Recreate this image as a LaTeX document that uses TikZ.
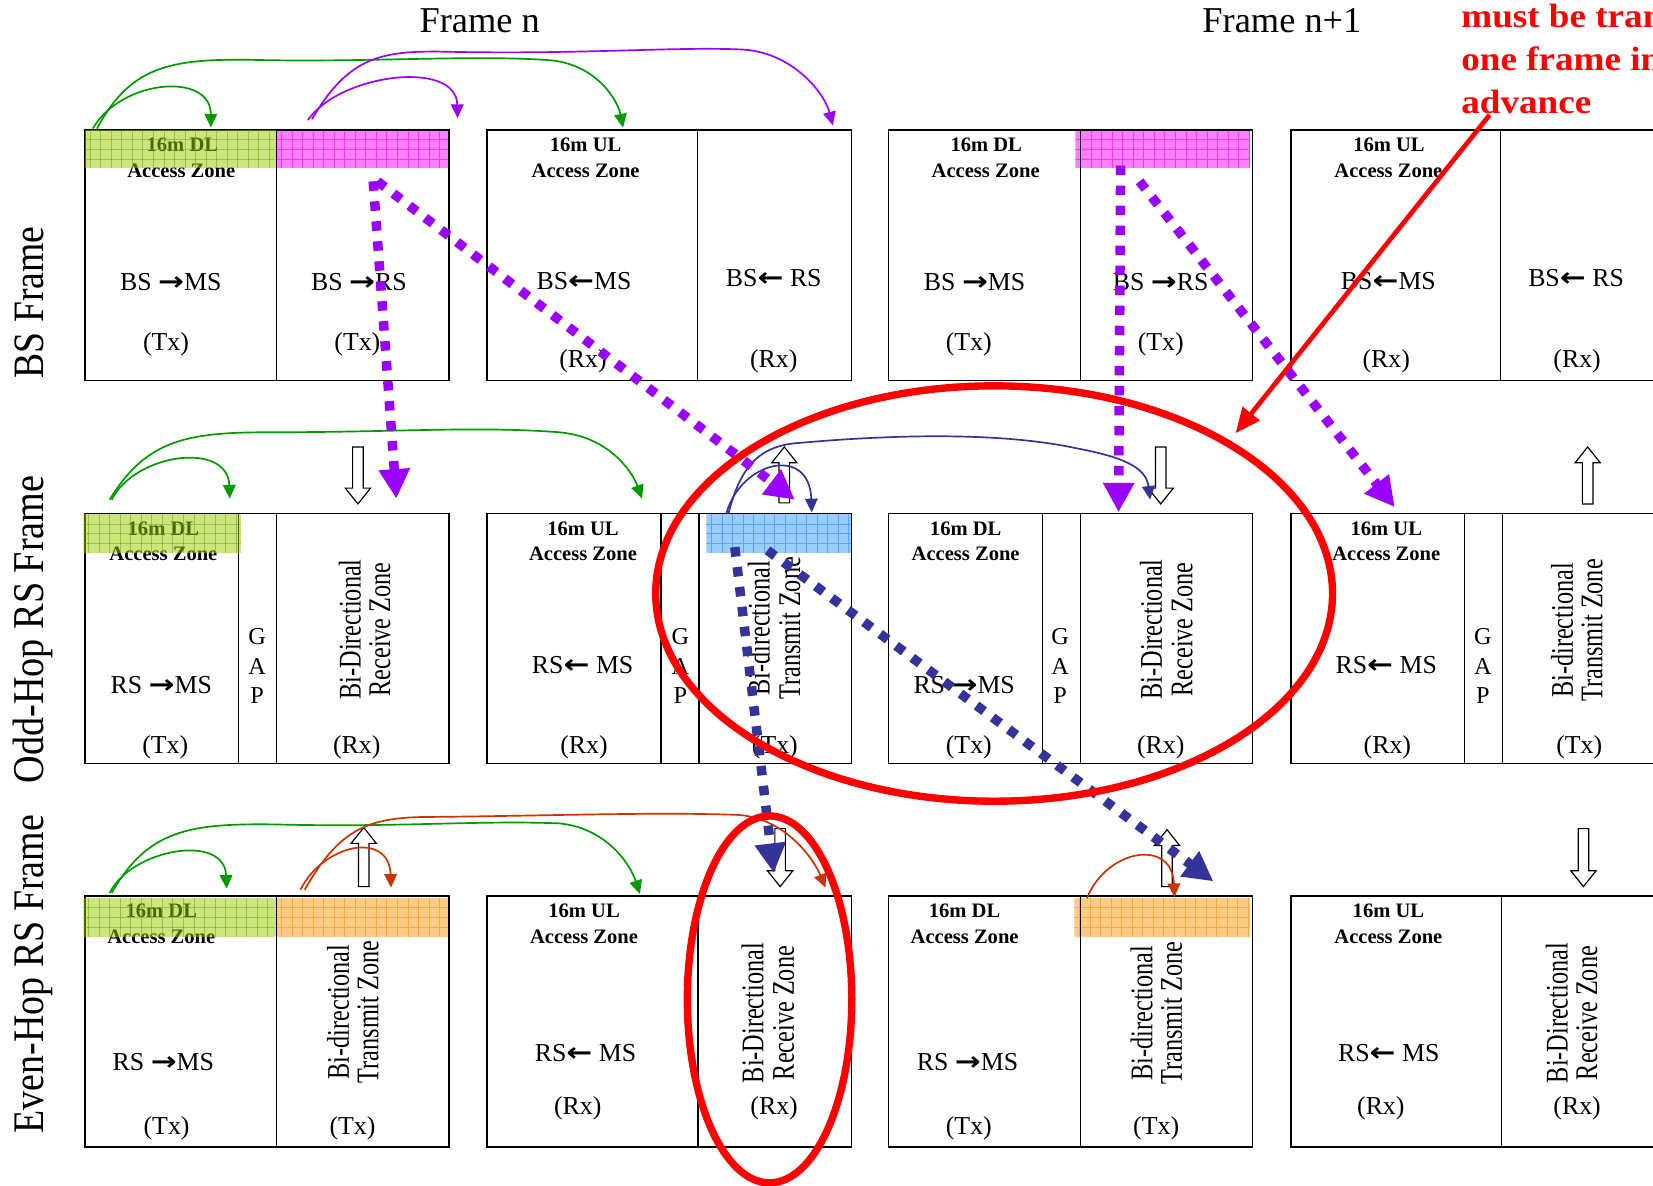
\documentclass[tikz,border=0pt]{standalone}
\usepackage{fontspec}
\usepackage{graphicx}
\setmainfont{Liberation Serif}
\newfontfamily\arrfont{DejaVu Sans}
\usetikzlibrary{arrows.meta}

\definecolor{cgreen}{HTML}{009900}
\definecolor{cpurple}{HTML}{9900FF}
\definecolor{cnavy}{HTML}{333399}
\definecolor{corange}{HTML}{CC3300}
\definecolor{cred}{HTML}{FF0000}
\definecolor{bgf}{HTML}{99CC00}
\definecolor{bgl}{HTML}{66A000}
\definecolor{bpf}{HTML}{FF80FF}
\definecolor{bpl}{HTML}{FF33FF}
\definecolor{bbf}{HTML}{99CCFF}
\definecolor{bbl}{HTML}{55A5FF}
\definecolor{bof}{HTML}{FFCC88}
\definecolor{bol}{HTML}{FFAA33}

\newcommand{\rar}{\scalebox{1.2}[1]{\arrfont\bfseries →}}
\newcommand{\lar}{\scalebox{1.2}[1]{\arrfont\bfseries ←}}

\tikzset{
 cellbox/.style={draw, line width=1.3pt, inner sep=0pt, outer sep=0pt},
 lbl/.style={font=\fontsize{24.5}{26}\selectfont, inner sep=0pt, anchor=base},
 blbl/.style={font=\bfseries\fontsize{19.5}{21}\selectfont, inner sep=0pt, anchor=base},
 gapl/.style={font=\fontsize{23}{24}\selectfont, inner sep=0pt, anchor=base},
 vlbl/.style={font=\fontsize{23}{25}\selectfont, inner sep=0pt, anchor=base, rotate=90},
 rowl/.style={inner sep=0pt, anchor=base, rotate=90},
 titlel/.style={font=\fontsize{34.5}{36}\selectfont, inner sep=0pt, anchor=base},
 notel/.style={font=\bfseries\fontsize{32}{34}\selectfont, text=cred, inner sep=0pt, anchor=base west},
 hollow/.style={draw=black, fill=white, line width=1.1pt, line join=miter},
 thinarr/.style={line width=1.6pt, -{Triangle[length=13pt,width=12pt]}},
 thickarr/.style={line width=9pt, dash pattern=on 9pt off 10pt, -{Triangle[length=28pt,width=28pt]}},
 redring/.style={draw=cred, line width=7pt},
}

\newcommand{\cell}[5]{\node[cellbox, minimum width={#4-#2}, minimum height={#5-#3}] (#1) at ({(#2+#4)/2},{(#3+#5)/2}) {};}
\newcommand{\lb}[4]{\node[lbl] (#1) at (#2,#3) {#4};}
\newcommand{\bl}[4]{\node[blbl] (#1) at (#2,#3) {#4};}
\newcommand{\vl}[4]{\node[vlbl] (#1) at (#2,#3) {\scalebox{1}[1.3]{#4}};}
\newcommand{\gapletters}[2]{\node[gapl] (#1G) at (#2,611) {G}; \node[gapl] (#1A) at (#2,639.4) {A}; \node[gapl] (#1P) at (#2,667) {P};}
\newcommand{\band}[7]{%
 \begin{scope}
 \clip (#1,#2) rectangle (#3,#4);
 \fill[#5, opacity=#7] (#1,#2) rectangle (#3,#4);
 \foreach \k in {0,10,...,200} {\draw[#6, line width=0.8pt, opacity=#7] ({#1+\k+5},#2) -- ({#1+\k+5},#4);}
 \foreach \k in {9.2,18.4,27.6} {\draw[#6, line width=0.8pt, opacity=#7] (#1,{#2+\k}) -- (#3,{#2+\k});}
 \end{scope}}
\newcommand{\hdown}[3]{\draw[hollow] ({#1-5},#2) -- ({#1+5},#2) -- ({#1+5},{#3-15}) -- ({#1+12},{#3-15}) -- (#1,#3) -- ({#1-12},{#3-15}) -- ({#1-5},{#3-15}) -- cycle;}
\newcommand{\hup}[3]{\draw[hollow] ({#1-5},#3) -- ({#1+5},#3) -- ({#1+5},{#2+15}) -- ({#1+12},{#2+15}) -- (#1,#2) -- ({#1-12},{#2+15}) -- ({#1-5},{#2+15}) -- cycle;}

\begin{document}
\begin{tikzpicture}[x=1pt,y=-1pt]
\useasboundingbox (0,0) rectangle (1568,1125);
\clip (0,0) rectangle (1568,1125);

% opaque coloured bands
\band{262}{123.3}{426}{159.5}{bpf}{bpl}{1}
\band{1020}{123.3}{1186}{159.5}{bpf}{bpl}{1}
\band{670}{488}{807}{524.5}{bbf}{bbl}{1}
\band{262}{852}{426}{889}{bof}{bol}{1}
\band{1019}{852}{1186}{889}{bof}{bol}{1}

% BS frame cells
\cell{bsAa}{80.5}{123.3}{262}{361}
\cell{bsAb}{262}{123.3}{426}{361}
\cell{bsBa}{462}{123.3}{661.6}{361}
\cell{bsBb}{661.6}{123.3}{807.5}{361}
\cell{bsCa}{843}{123.3}{1025}{361}
\cell{bsCb}{1025}{123.3}{1188}{361}
\cell{bsDa}{1224.5}{123.3}{1423.6}{361}
\cell{bsDb}{1423.6}{123.3}{1620}{361}
% Odd-hop cells
\cell{odAa}{80.5}{487}{226}{724}
\cell{odAg}{226}{487}{262}{724}
\cell{odAb}{262}{487}{426}{724}
\cell{odBa}{462}{487}{627}{724}
\cell{odBg}{627}{487}{663}{724}
\cell{odBb}{663}{487}{807.5}{724}
\cell{odCa}{843}{487}{988.6}{724}
\cell{odCg}{988.6}{487}{1025}{724}
\cell{odCb}{1025}{487}{1188}{724}
\cell{odDa}{1224.5}{487}{1389}{724}
\cell{odDg}{1389}{487}{1425}{724}
\cell{odDb}{1425}{487}{1620}{724}
% Even-hop cells
\cell{evAa}{80.5}{850}{262}{1088}
\cell{evAb}{262}{850}{426}{1088}
\cell{evBa}{462}{850}{662}{1088}
\cell{evBb}{662}{850}{807.5}{1088}
\cell{evCa}{843}{850}{1025}{1088}
\cell{evCb}{1025}{850}{1188}{1088}
\cell{evDa}{1224.5}{850}{1424}{1088}
\cell{evDb}{1424}{850}{1620}{1088}

% titles
\node[titlel] (fn) at (455,30.6) {Frame n};
\node[titlel] (fn1) at (1216,30.6) {Frame n+1};

% row labels
\node[rowl] (rowBS) at (41,287) {\scalebox{1}[1.15]{\resizebox{144pt}{!}{\fontsize{35}{36}\selectfont BS Frame}}};
\node[rowl] (rowOdd) at (41,597) {\scalebox{1}[1.15]{\resizebox{292pt}{!}{\fontsize{35}{36}\selectfont Odd-Hop RS Frame}}};
\node[rowl] (rowEven) at (41,924) {\scalebox{1}[1.15]{\resizebox{302pt}{!}{\fontsize{35}{36}\selectfont Even-Hop RS Frame}}};

% BS row texts
\bl{tb1}{173}{144}{16m DL} \bl{tb2}{172}{168}{Access Zone}
\bl{tb3}{555.5}{144}{16m UL} \bl{tb4}{555.5}{168}{Access Zone}
\bl{tb5}{935.5}{144}{16m DL} \bl{tb6}{935}{168}{Access Zone}
\bl{tb7}{1317.5}{144}{16m UL} \bl{tb8}{1317}{168}{Access Zone}
\lb{tr1}{162}{276}{BS \rar MS} \lb{tr2}{157.5}{332}{(Tx)}
\lb{tr3}{340.5}{276}{BS \rar RS} \lb{tr4}{339}{332}{(Tx)}
\lb{tr5}{554}{275}{BS\lar MS} \lb{tr6}{553}{349}{(Rx)}
\lb{tr7}{734}{272}{BS\lar\ RS} \lb{tr8}{734}{349}{(Rx)}
\lb{tr9}{924.5}{276}{BS \rar MS} \lb{tr10}{919}{332}{(Tx)}
\lb{tr11}{1101}{276}{BS \rar RS} \lb{tr12}{1101}{332}{(Tx)}
\lb{tr13}{1317}{275}{BS\lar MS} \lb{tr14}{1315}{349}{(Rx)}
\lb{tr15}{1495}{272}{BS\lar\ RS} \lb{tr16}{1496}{349}{(Rx)}

% Odd row texts
\bl{ob1}{155}{507.5}{16m DL} \bl{ob2}{155}{532}{Access Zone}
\bl{ob3}{553}{507.5}{16m UL} \bl{ob4}{553}{532}{Access Zone}
\bl{ob5}{916}{507.5}{16m DL} \bl{ob6}{916}{532}{Access Zone}
\bl{ob7}{1315}{507.5}{16m UL} \bl{ob8}{1315}{532}{Access Zone}
\lb{or1}{153}{657.6}{RS \rar MS} \lb{or2}{156.8}{714.6}{(Tx)} \lb{or3}{338.4}{714.6}{(Rx)}
\lb{or4}{552.7}{638.6}{RS\lar\ MS} \lb{or5}{554}{714.6}{(Rx)} \lb{or6}{735}{714.6}{(Tx)}
\lb{or7}{914.6}{657.6}{RS \rar MS} \lb{or8}{919}{714.6}{(Tx)} \lb{or9}{1101}{714.6}{(Rx)}
\lb{or10}{1315}{638.6}{RS\lar\ MS} \lb{or11}{1316}{714.6}{(Rx)} \lb{or12}{1498}{714.6}{(Tx)}
\gapletters{gapA}{244}
\gapletters{gapB}{645.4}
\gapletters{gapC}{1005.6}
\gapletters{gapD}{1406.6}
\vl{ov1}{342}{597}{Bi-Directional} \vl{ov2}{370}{597}{Receive Zone}
\vl{ov3}{730}{596}{Bi-directional} \vl{ov4}{759}{596}{Transmit Zone}
\vl{ov5}{1102}{597}{Bi-Directional} \vl{ov6}{1131}{597}{Receive Zone}
\vl{ov7}{1492}{598}{Bi-directional} \vl{ov8}{1520}{598}{Transmit Zone}

% Even row texts
\bl{eb1}{153}{870.5}{16m DL} \bl{eb2}{153}{894.7}{Access Zone}
\bl{eb3}{554}{870.5}{16m UL} \bl{eb4}{554}{894.7}{Access Zone}
\bl{eb5}{915}{870.5}{16m DL} \bl{eb6}{915}{894.7}{Access Zone}
\bl{eb7}{1317}{870.5}{16m UL} \bl{eb8}{1317}{894.7}{Access Zone}
\lb{er1}{155}{1015}{RS \rar MS} \lb{er2}{158}{1076.6}{(Tx)} \lb{er3}{334.4}{1076.6}{(Tx)}
\lb{er4}{555.4}{1007}{RS\lar\ MS} \lb{er5}{548}{1057.6}{(Rx)} \lb{er6}{734.3}{1057.6}{(Rx)}
\lb{er7}{917.8}{1015}{RS \rar MS} \lb{er8}{919}{1076.6}{(Tx)} \lb{er9}{1096.7}{1076.6}{(Tx)}
\lb{er10}{1317.3}{1007}{RS\lar\ MS} \lb{er11}{1309.8}{1057.6}{(Rx)} \lb{er12}{1496}{1057.6}{(Rx)}
\vl{ev1}{331}{960}{Bi-directional} \vl{ev2}{359}{960}{Transmit Zone}
\vl{ev3}{724}{961}{Bi-Directional} \vl{ev4}{753}{961}{Receive Zone}
\vl{ev5}{1093}{961}{Bi-directional} \vl{ev6}{1121}{961}{Transmit Zone}
\vl{ev7}{1487}{961}{Bi-Directional} \vl{ev8}{1515}{961}{Receive Zone}

% translucent green bands over the text
\band{80.5}{123.3}{262}{159.5}{bgf}{bgl}{0.5}
\band{79}{488}{229}{525}{bgf}{bgl}{0.5}
\band{79}{852}{262}{889}{bgf}{bgl}{0.5}

% hollow block arrows
\hdown{339.5}{424}{478}
\hup{744}{424}{477}
\hdown{1101}{424}{478}
\hup{1506}{424}{478}
\hup{345}{785}{841}
\hdown{740}{786}{841}
\hup{1107}{787}{841}
\hdown{1502}{786}{841}

% coordinates for connectors
\coordinate (g1s) at (88,122);   \coordinate (g1e) at (200,121);
\coordinate (g2s) at (92,122);   \coordinate (g2e) at (591,121);
\coordinate (p1s) at (292,114);  \coordinate (p1e) at (434,112);
\coordinate (p2s) at (296,113);  \coordinate (p2e) at (790,119);
\coordinate (g3s) at (106,474);  \coordinate (g3e) at (218,473);
\coordinate (g4s) at (104,474);  \coordinate (g4e) at (609,473);
\coordinate (n1s) at (689,487);  \coordinate (n1e) at (770,486);
\coordinate (n2s) at (691,487);  \coordinate (n2e) at (1091,474);
\coordinate (g5s) at (104,847);  \coordinate (g5e) at (215,843);
\coordinate (g6s) at (106,847);  \coordinate (g6e) at (607,848);
\coordinate (o1s) at (285,844);  \coordinate (o1e) at (371,842);
\coordinate (o2s) at (289,844);  \coordinate (o2e) at (783,842);
\coordinate (o3s) at (1031,852); \coordinate (o3e) at (1114,851);

% thin curved arrows
\draw[thinarr, cgreen] (g1s) .. controls (115,75) and (200,68) .. (g1e);
\draw[thinarr, cgreen] (g2s) .. controls (125,60) and (165,55) .. (250,57) .. controls (350,59) and (450,52) .. (520,57) .. controls (565,60) and (586,95) .. (g2e);
\draw[thinarr, cpurple] (p1s) .. controls (322,70) and (433,56) .. (p1e);
\draw[thinarr, cpurple] (p2s) .. controls (330,55) and (360,48) .. (420,49) .. controls (550,52) and (640,44) .. (705,47) .. controls (752,50) and (782,88) .. (p2e);
\draw[thinarr, cgreen] (g3s) .. controls (128,430) and (216,418) .. (g3e);
\draw[thinarr, cgreen] (g4s) .. controls (140,415) and (180,410) .. (260,410) .. controls (380,410) and (450,404) .. (530,410) .. controls (578,414) and (600,448) .. (g4e);
\draw[thinarr, cnavy] (n1s) .. controls (703,437) and (768,422) .. (n1e);
\draw[thinarr, cnavy] (n2s) .. controls (703,440) and (722,422) .. (760,420) .. controls (850,412) and (950,410) .. (1020,425) .. controls (1062,433) and (1087,442) .. (n2e);
\draw[thinarr, cgreen] (g5s) .. controls (125,805) and (213,790) .. (g5e);
\draw[thinarr, cgreen] (g6s) .. controls (140,787) and (180,781) .. (260,782) .. controls (380,785) and (450,778) .. (530,781) .. controls (575,785) and (598,820) .. (g6e);
\draw[thinarr, corange] (o1s) .. controls (307,800) and (369,788) .. (o1e);
\draw[thinarr, corange] (o2s) .. controls (320,790) and (345,776) .. (400,775) .. controls (520,774) and (620,770) .. (700,773) .. controls (745,776) and (772,815) .. (o2e);
\draw[thinarr, corange] (o3s) .. controls (1050,805) and (1112,795) .. (o3e);

% thick dotted arrows
\coordinate (d1s) at (354,172);  \coordinate (d1e) at (376,473);
\coordinate (d2s) at (358,172);  \coordinate (d2e) at (754,474);
\coordinate (d3s) at (1063,157); \coordinate (d3e) at (1061,486);
\coordinate (d4s) at (1081,172); \coordinate (d4e) at (1323,481);
\coordinate (d5s) at (697,519);  \coordinate (d5e) at (734,828);
\coordinate (d6s) at (728,522);  \coordinate (d6e) at (1151,836);
\draw[thickarr, cpurple] (d1s) -- (d1e);
\draw[thickarr, cpurple] (d2s) -- (d2e);
\draw[thickarr, cpurple] (d3s) -- (d3e);
\draw[thickarr, cpurple] (d4s) -- (d4e);
\draw[thickarr, cnavy] (d5s) -- (d5e);
\draw[thickarr, cnavy] (d6s) -- (d6e);

% red highlights
\draw[redring] (943,563) ellipse [x radius=321, y radius=197];
\draw[redring] (730,948) ellipse [x radius=78, y radius=174];
\coordinate (ras) at (1413,109); \coordinate (rae) at (1172,411);
\draw[cred, line width=4.5pt, -{Triangle[length=24pt,width=20pt]}] (ras) -- (rae);
\node[notel] (note1) at (1386,26) {\scalebox{1.1}[1]{must be transmitted}};
\node[notel] (note2) at (1386,67) {\scalebox{1.1}[1]{one frame in}};
\node[notel] (note3) at (1386,108) {\scalebox{1.1}[1]{advance}};
\end{tikzpicture}
\end{document}
